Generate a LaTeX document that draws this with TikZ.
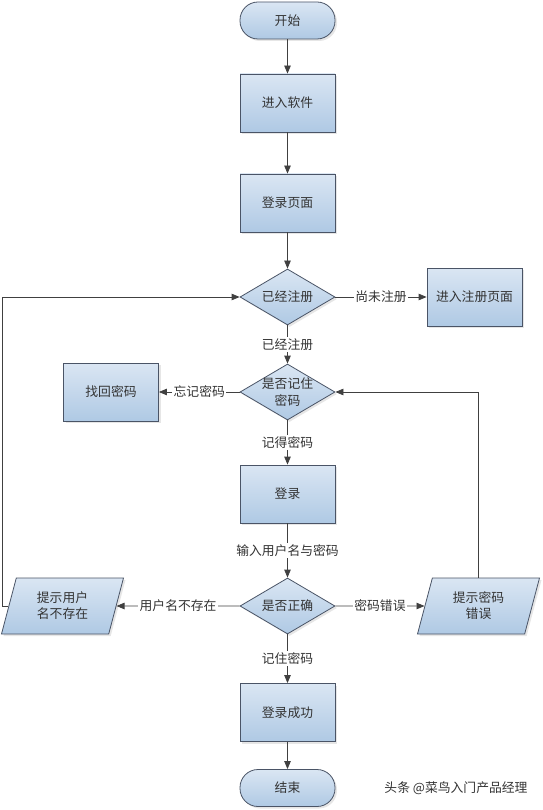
\documentclass[tikz,border=0pt]{standalone}
\usepackage{fontspec}
\setmainfont{Noto Sans CJK SC}
\usetikzlibrary{shapes.geometric,arrows.meta,shadows,calc}
\definecolor{bd}{HTML}{4A5466}
\definecolor{ftop}{HTML}{DAE6F3}
\definecolor{fbot}{HTML}{AFC9E4}
\definecolor{ln}{HTML}{404040}
\definecolor{tx}{HTML}{333333}
\tikzset{
  base/.style={draw=bd, line width=0.8pt, top color=ftop, bottom color=fbot,
    text=tx, inner sep=0pt, align=center,
    preaction={drop shadow={opacity=0.2, shadow xshift=2pt, shadow yshift=-2pt}}},
  proc/.style={base, rectangle, minimum width=95pt, minimum height=58pt},
  term/.style={base, rectangle, rounded corners=18pt, minimum width=95pt, minimum height=37pt},
  dia/.style={base, diamond, minimum width=95pt, minimum height=56pt},
  para/.style={base, trapezium, trapezium left angle=62, trapezium right angle=118,
    trapezium stretches body=true, minimum width=122pt, minimum height=56pt},
  arr/.style={draw=ln, line width=0.8pt, -{Triangle[width=6.5pt,length=8pt]}},
  lab/.style={fill=white, text=tx, inner sep=1.5pt}
}
\begin{document}
\begin{tikzpicture}[x=1pt,y=-1pt, font=\fontsize{12.8}{16}\selectfont]
\useasboundingbox (0,0) rectangle (542,810);
\node[term] (start) at (287.5,20.5) {开始};
\node[proc] (soft) at (287.5,103) {进入软件};
\node[proc] (page) at (287.5,203) {登录页面};
\node[dia, label={[text=tx,align=center]center:已经注册}] (reg) at (287.5,297) {};
\node[proc] (regp) at (474.5,297) {进入注册页面};
\node[dia, label={[text=tx,align=center,font=\fontsize{12.8}{17}\selectfont]center:是否记住\\密码}] (rem) at (287.5,392) {};
\node[proc] (find) at (111,392) {找回密码};
\node[proc] (login) at (287.5,494) {登录};
\node[dia, label={[text=tx,align=center]center:是否正确}] (ok) at (287.5,606) {};
\node[para] (nouser) at (62.5,606) {提示用户\\名不存在};
\node[para] (pwerr) at (478.5,606) {提示密码\\错误};
\node[proc] (succ) at (287.5,712.5) {登录成功};
\node[term] (end) at (287.5,788) {结束};
\coordinate (lft) at (2,0);

\draw[arr] (start) -- (soft);
\draw[arr] (soft) -- (page);
\draw[arr] (page) -- (reg);
\draw[arr] (reg) -- node[lab]{尚未注册} (regp);
\draw[arr] (reg) -- node[lab]{已经注册} (rem);
\draw[arr] (rem) -- node[lab]{忘记密码} (find);
\draw[arr] (rem) -- node[lab]{记得密码} (login);
\draw[arr] (login) -- node[lab]{输入用户名与密码} (ok);
\draw[arr] (ok) -- node[lab]{用户名不存在} (nouser.east);
\draw[arr] (ok) -- node[lab]{密码错误} (pwerr.west);
\draw[arr] (ok) -- node[lab]{记住密码} (succ);
\draw[arr] (succ) -- (end);
\draw[arr] (nouser.west) -- (nouser.west -| lft) |- (reg.west);
\draw[arr] (pwerr.north) |- (rem.east);

\node[text=tx, anchor=east] (wm) at (531,788) {头条 @菜鸟入门产品经理};
\end{tikzpicture}
\end{document}
